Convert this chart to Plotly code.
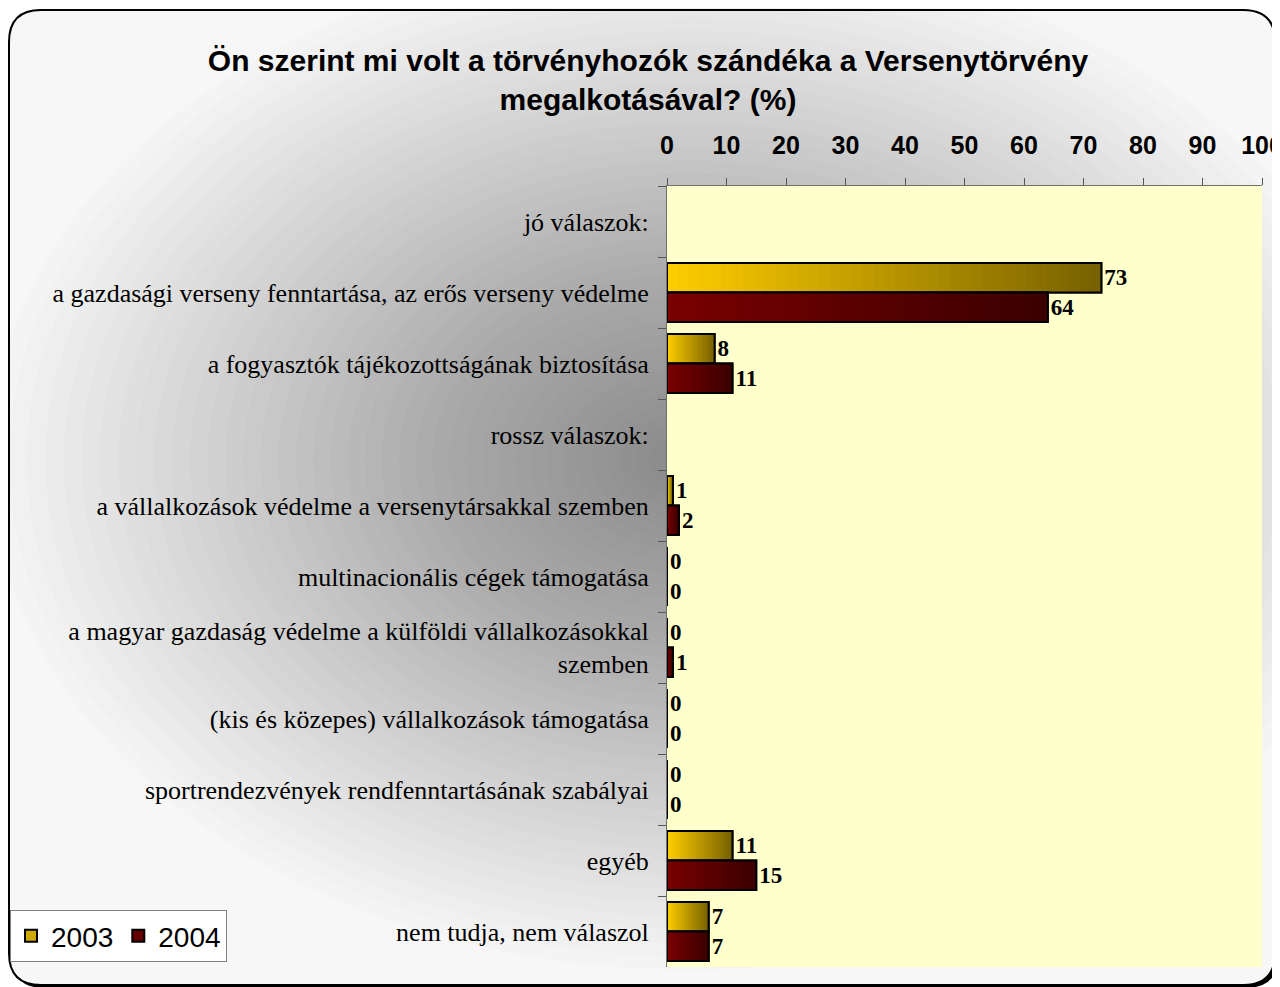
import plotly.graph_objects as go

categories = [
    "jó válaszok:",
    "a gazdasági verseny fenntartása, az erős verseny védelme",
    "a fogyasztók tájékozottságának biztosítása",
    "rossz válaszok:",
    "a vállalkozások védelme a versenytársakkal szemben",
    "multinacionális cégek támogatása",
    "a magyar gazdaság védelme a külföldi vállalkozásokkal<br>szemben",
    "(kis és közepes) vállalkozások támogatása",
    "sportrendezvények rendfenntartásának szabályai",
    "egyéb",
    "nem tudja, nem válaszol",
]
v2003 = [None, 73, 8, None, 1, 0, 0, 0, 0, 11, 7]
v2004 = [None, 64, 11, None, 2, 0, 1, 0, 0, 15, 7]
x_ticks = [0, 10, 20, 30, 40, 50, 60, 70, 80, 90, 100]

W, H = 1280, 987
OFF = 8  # page body margin
# plot area edges as seen on screen
L, R, T, B = 667, 1262, 186, 967

# screen pixel -> paper coords
def px(x):
    return (x - L) / (R - L)

def py(y):
    return (B - y) / (B - T)

def mix(c1, c2, t):
    return "rgb(%d,%d,%d)" % tuple(round(a + (b - a) * t) for a, b in zip(c1, c2))

series = [
    ("2003", v2003, (255, 206, 0), (118, 96, 0)),
    ("2004", v2004, (122, 0, 0), (58, 0, 0)),
]
N = 40
SERIF = "Liberation Serif, Times New Roman, serif"
SANS = "Liberation Sans, Arial, sans-serif"

fig = go.Figure()
for name, vals, c1, c2 in series:
    # base bar (legend entry)
    fig.add_trace(go.Bar(
        y=categories, x=vals, orientation="h", name=name, offsetgroup=name,
        marker=dict(color=mix(c1, c2, 0.35), line=dict(color="black", width=2)),
        hoverinfo="skip",
    ))
    # gradient pieces, each one runs to the bar end so no seams show
    for i in range(N):
        fig.add_trace(go.Bar(
            y=categories,
            x=[None if v is None else v * (N - i) / N for v in vals],
            base=[None if v is None else v * i / N for v in vals],
            orientation="h", offsetgroup=name, showlegend=False,
            marker=dict(color=mix(c1, c2, (i + 0.5) / N), line=dict(width=0)),
            hoverinfo="skip",
        ))
    # outline + value labels
    fig.add_trace(go.Bar(
        y=categories, x=vals, orientation="h", offsetgroup=name, showlegend=False,
        marker=dict(color="rgba(0,0,0,0)", line=dict(color="black", width=2)),
        text=["" if v is None else str(v) for v in vals],
        textposition="outside", cliponaxis=False,
        textfont=dict(family=SERIF, size=23, color="black", weight="bold"),
        hovertemplate=name + ": %{x}<extra></extra>",
    ))

shapes = []
# outer rounded frame
def rrect(x0, y0, x1, y1, r):
    return ("M %f,%f L %f,%f Q %f,%f %f,%f L %f,%f Q %f,%f %f,%f L %f,%f Q %f,%f %f,%f L %f,%f Q %f,%f %f,%f Z" % (
        px(x0 + r), py(y0), px(x1 - r), py(y0), px(x1), py(y0), px(x1), py(y0 + r),
        px(x1), py(y1 - r), px(x1), py(y1), px(x1 - r), py(y1),
        px(x0 + r), py(y1), px(x0), py(y1), px(x0), py(y1 - r),
        px(x0), py(y0 + r), px(x0), py(y0), px(x0 + r), py(y0)))

shapes.append(dict(type="path", xref="paper", yref="paper", layer="below",
                   path=rrect(12, 13, 1278, 988, 32), fillcolor="black", line=dict(width=0)))
shapes.append(dict(type="path", xref="paper", yref="paper", layer="below",
                   path=rrect(9, 10, 1275, 985, 32), fillcolor="#f7f7f7",
                   line=dict(color="black", width=2)))
# soft grey shading behind the labels (stacked translucent ellipses)
n_sh = 40
cx, cy = 690, 460
for k in range(n_sh):
    f = ((n_sh - k) / n_sh) ** 1.1
    rx = 670 * f + 30
    ry = 490 * f + 20
    shapes.append(dict(type="circle", xref="paper", yref="paper", layer="below",
                       x0=px(cx - rx), x1=px(cx + rx), y0=py(cy + ry), y1=py(cy - ry),
                       fillcolor="rgba(0,0,0,0.013)", line=dict(width=0)))
# plot area fill
shapes.append(dict(type="rect", xref="paper", yref="paper", layer="below",
                   x0=0, x1=1, y0=0, y1=1, fillcolor="#FFFFCC", line=dict(width=0)))

fig.update_layout(
    width=W, height=H,
    margin=dict(l=L - OFF, r=W - (R - OFF), t=T - OFF, b=H - (B - OFF), autoexpand=False),
    paper_bgcolor="white", plot_bgcolor="rgba(0,0,0,0)",
    barmode="group", bargap=0.17, bargroupgap=0,
    title=dict(text="Ön szerint mi volt a törvényhozók szándéka a Versenytörvény<br>megalkotásával? (%)",
               x=(648 - OFF) / W, xanchor="center", y=1 - (71 - OFF) / H, yanchor="middle",
               font=dict(family=SANS, size=30, color="black", weight="bold")),
    legend=dict(orientation="h", x=px(10), xanchor="left", y=py(962), yanchor="bottom",
                bgcolor="white", bordercolor="#808080", borderwidth=1,
                font=dict(family=SANS, size=28, color="black"), traceorder="normal"),
    shapes=shapes,
    showlegend=True,
)
fig.update_xaxes(side="top", range=[0, 100], tickvals=x_ticks, ticks="outside", ticklen=7,
                 tickcolor="#555555", showline=True, linecolor="#707070", linewidth=1,
                 showgrid=False, zeroline=False, ticklabelstandoff=14, automargin=False,
                 tickfont=dict(family=SANS, size=25, color="black", weight="bold"))
fig.update_yaxes(autorange="reversed", ticks="outside", ticklen=8, tickson="boundaries",
                 tickcolor="#555555", showline=True, linecolor="#707070", linewidth=1,
                 showgrid=False, ticklabelstandoff=12, automargin=False,
                 tickfont=dict(family=SERIF, size=26, color="black"))

fig.write_html("out.html")
